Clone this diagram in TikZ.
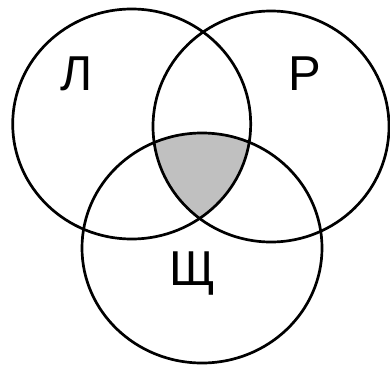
\documentclass[tikz,border=0pt]{standalone}
\usepackage{fontspec}
\setmainfont{Liberation Sans}
\begin{document}
\begin{tikzpicture}[x=1pt,y=-1pt,
  ring/.style={draw=black,line width=2.7pt},
  lbl/.style={anchor=base,inner sep=0pt,font=\fontsize{49}{49}\selectfont}]
\useasboundingbox (0,0) rectangle (390,364);
\fill[white] (0,0) rectangle (390,364);
\begin{scope}
  \clip (131.7,124) ellipse [x radius=119, y radius=115];
  \clip (271,126.5) ellipse [x radius=118, y radius=115.5];
  \fill[fill={rgb,255:red,192;green,192;blue,192}] (202,248) ellipse [x radius=120, y radius=115];
\end{scope}
\draw[ring] (131.7,124) ellipse [x radius=119, y radius=115];
\draw[ring] (271,126.5) ellipse [x radius=118, y radius=115.5];
\draw[ring] (202,248) ellipse [x radius=120, y radius=115];
\node[lbl] (L) at (77,90) {Л};
\node[lbl] (R) at (304.5,90) {Р};
\node[lbl] (S) at (192,285) {Щ};
\end{tikzpicture}
\end{document}
